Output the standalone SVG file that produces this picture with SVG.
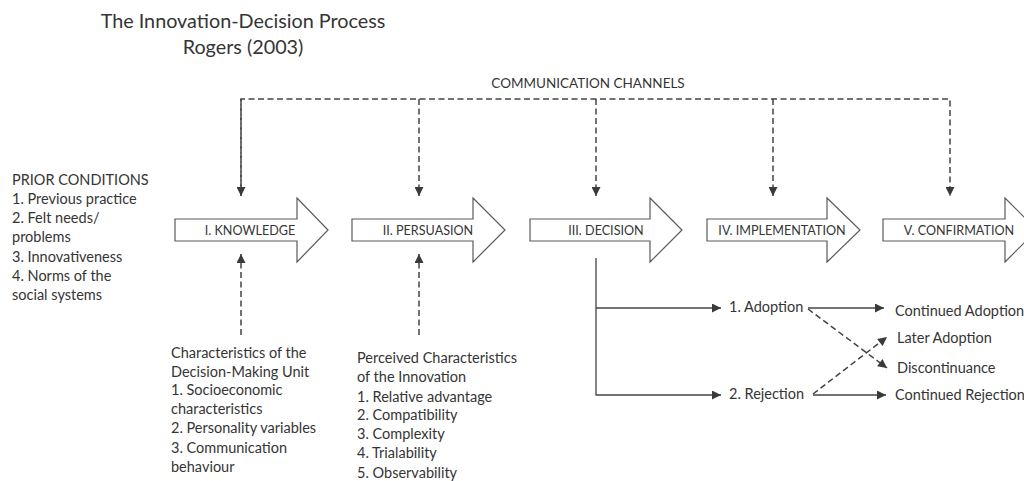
<svg xmlns="http://www.w3.org/2000/svg" width="1024" height="481" viewBox="0 0 1024 481">
<defs>
<marker id="ah" viewBox="0 0 10 10" refX="10" refY="5" markerWidth="10" markerHeight="9" markerUnits="userSpaceOnUse" orient="auto">
<path d="M0,0 L10,5 L0,10 z" fill="#3a3a3a"/>
</marker>
</defs>
<style>
text{font-family:Lato,"Liberation Sans",sans-serif;fill:#353535}
.t{font-size:19.8px}
.b{font-size:14.5px}
.s{font-size:12.6px}
.c{font-size:13.5px}
.st{fill:#fff;stroke:#5a5a5a;stroke-width:1.2}
.d{fill:none;stroke:#444;stroke-width:1.5;stroke-dasharray:6 3.5}
.l{fill:none;stroke:#444;stroke-width:1.3}
</style>
<rect width="1024" height="481" fill="#fff"/>
<g id="title">
<text class="t" x="243" y="28" text-anchor="middle">The Innovation-Decision Process</text>
<text class="t" x="243" y="54" text-anchor="middle">Rogers (2003)</text>
</g>
<g id="channels">
<text class="c" x="588" y="88" text-anchor="middle">COMMUNICATION CHANNELS</text>
</g>
<g id="prior">
<text class="b" x="12"><tspan x="12" y="185">PRIOR CONDITIONS</tspan><tspan x="12" y="204">1. Previous practice</tspan><tspan x="12" y="223">2. Felt needs/</tspan><tspan x="12" y="242">problems</tspan><tspan x="12" y="262">3. Innovativeness</tspan><tspan x="12" y="281">4. Norms of the</tspan><tspan x="12" y="300">social systems</tspan></text>
</g>
<g id="knowledge">
<polygon class="st" points="175,219 297,219 297,198 328,230 297,262 297,241 175,241"/>
<text class="s" x="250" y="234.5" text-anchor="middle">I. KNOWLEDGE</text>
</g>
<g id="persuasion">
<polygon class="st" points="352,219 473,219 473,198 505,230 473,262 473,241 352,241"/>
<text class="s" x="428" y="234.5" text-anchor="middle">II. PERSUASION</text>
</g>
<g id="decision">
<polygon class="st" points="530,219 650,219 650,198 682,230 650,262 650,241 530,241"/>
<text class="s" x="606" y="234.5" text-anchor="middle">III. DECISION</text>
</g>
<g id="implementation">
<polygon class="st" points="707,219 827,219 827,198 860,230 827,262 827,241 707,241"/>
<text class="s" x="782" y="234.5" text-anchor="middle">IV. IMPLEMENTATION</text>
</g>
<g id="confirmation">
<polygon class="st" points="883,219 1005,219 1005,198 1037,230 1005,262 1005,241 883,241"/>
<text class="s" x="959" y="234.5" text-anchor="middle">V. CONFIRMATION</text>
</g>
<g id="unit">
<text class="b"><tspan x="171" y="358">Characteristics of the</tspan><tspan x="171" y="377">Decision-Making Unit</tspan><tspan x="171" y="395">1. Socioeconomic</tspan><tspan x="171" y="414">characteristics</tspan><tspan x="171" y="433">2. Personality variables</tspan><tspan x="171" y="453">3. Communication</tspan><tspan x="171" y="472">behaviour</tspan></text>
</g>
<g id="perceived">
<text class="b"><tspan x="357" y="363">Perceived Characteristics</tspan><tspan x="357" y="382">of the Innovation</tspan><tspan x="357" y="402">1. Relative advantage</tspan><tspan x="357" y="420">2. Compatibility</tspan><tspan x="357" y="439">3. Complexity</tspan><tspan x="357" y="458">4. Trialability</tspan><tspan x="357" y="478">5. Observability</tspan></text>
</g>
<g id="adoption"><text class="b" x="729" y="312">1. Adoption</text></g>
<g id="rejection"><text class="b" x="729" y="399">2. Rejection</text></g>
<g id="continued-adoption"><text class="b" x="895" y="316">Continued Adoption</text></g>
<g id="later-adoption"><text class="b" x="897" y="343">Later Adoption</text></g>
<g id="discontinuance"><text class="b" x="897" y="373">Discontinuance</text></g>
<g id="continued-rejection"><text class="b" x="895" y="400">Continued Rejection</text></g>
<g id="connectors">
<polyline class="d" points="241,196 241,99 950,99 950,196" marker-end="url(#ah)"/>
<line class="d" x1="241" y1="99" x2="241" y2="196" marker-end="url(#ah)"/>
<line class="d" x1="419" y1="99" x2="419" y2="196" marker-end="url(#ah)"/>
<line class="d" x1="596" y1="99" x2="596" y2="196" marker-end="url(#ah)"/>
<line class="d" x1="773" y1="99" x2="773" y2="196" marker-end="url(#ah)"/>
<line class="d" x1="241" y1="335" x2="241" y2="254" marker-end="url(#ah)"/>
<line class="d" x1="419" y1="335" x2="419" y2="254" marker-end="url(#ah)"/>
<polyline class="l" points="596,258 596,395 721,395" marker-end="url(#ah)"/>
<line class="l" x1="596" y1="308" x2="721" y2="308" marker-end="url(#ah)"/>
<line class="l" x1="808" y1="308" x2="884" y2="308" marker-end="url(#ah)"/>
<line class="l" x1="813" y1="395" x2="886" y2="395" marker-end="url(#ah)"/>
<line class="d" x1="808" y1="309" x2="887" y2="368" marker-end="url(#ah)"/>
<line class="d" x1="813" y1="394" x2="887" y2="337" marker-end="url(#ah)"/>
</g>
</svg>
